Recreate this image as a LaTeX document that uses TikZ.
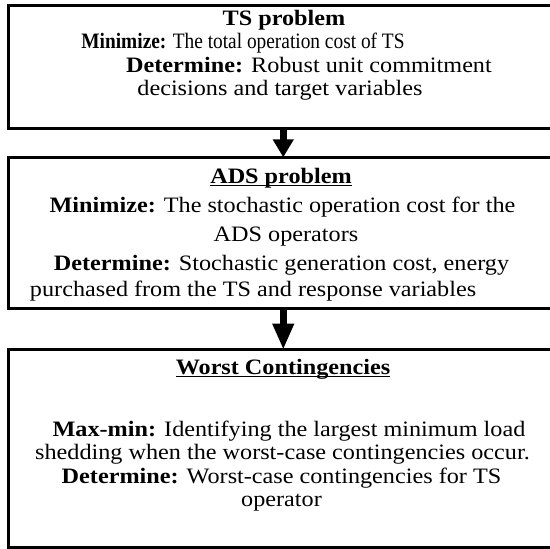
\documentclass[tikz,border=0pt]{standalone}
\usepackage{graphicx}
\usepackage{fontspec}
\setmainfont{Liberation Serif}[FakeStretch=1.1]
\usetikzlibrary{arrows.meta}
\newcommand\myul[1]{\setbox0\hbox{#1}\rlap{\rule[-3.4pt]{\wd0}{1.5pt}}\box0}
\begin{document}
\begin{tikzpicture}[x=1pt,y=-1pt,
  box/.style={draw=black, line width=3pt, rectangle, inner sep=0pt, outer sep=0pt, anchor=north west},
  txt/.style={inner sep=0pt, outer sep=0pt, anchor=base, font=\fontsize{22}{24}\selectfont},
  flow/.style={line width=6.5pt, -{Triangle[width=20pt,length=18pt]}},
  flowb/.style={line width=6.5pt, -{Triangle[width=20pt,length=26pt]}}]
\useasboundingbox (0,0) rectangle (550,549);
\clip (0,0) rectangle (550,549);
\fill[white] (0,0) rectangle (550,549);
% boxes
\node[box, minimum width=549.5pt, minimum height=123.2pt] (b1) at (8.5,5.5) {};
\node[box, minimum width=549.5pt, minimum height=151.4pt] (b2) at (8.5,157.3) {};
\node[box, minimum width=549.5pt, minimum height=197.5pt] (b3) at (8.5,349.7) {};
% arrows
\draw[flow] (b1.south) -- (b2.north);
\draw[flowb] (b2.south) -- (b3.north);
% box 1 text
\node[txt] (t11) at (284,25) {\textbf{TS problem}};
\node[txt] (t12) at (243,48.5) {\scalebox{0.8}[1]{\textbf{Minimize:} The total operation cost of TS}};
\node[txt] (t13) at (309,72) {\textbf{Determine:} Robust unit commitment};
\node[txt] (t14) at (280,95.5) {decisions and target variables};
% box 2 text
\node[txt] (t21) at (281,183) {\myul{\textbf{ADS problem}}};
\node[txt] (t22) at (282.5,212.5) {\textbf{Minimize:} The stochastic operation cost for the};
\node[txt] (t23) at (286,241.5) {ADS operators};
\node[txt] (t24) at (281.5,270) {\textbf{Determine:} Stochastic generation cost, energy};
\node[txt, anchor=base west] (t25) at (30,296.5) {purchased from the TS and response variables};
% box 3 text
\node[txt] (t31) at (283,374) {\myul{\textbf{Worst Contingencies}}};
\node[txt] (t32) at (289,436) {\textbf{Max-min:} Identifying the largest minimum load};
\node[txt] (t33) at (282.5,459.5) {shedding when the worst-case contingencies occur.};
\node[txt] (t34) at (281.5,483) {\textbf{Determine:} Worst-case contingencies for TS};
\node[txt] (t35) at (281.5,506) {operator};
\end{tikzpicture}
\end{document}
